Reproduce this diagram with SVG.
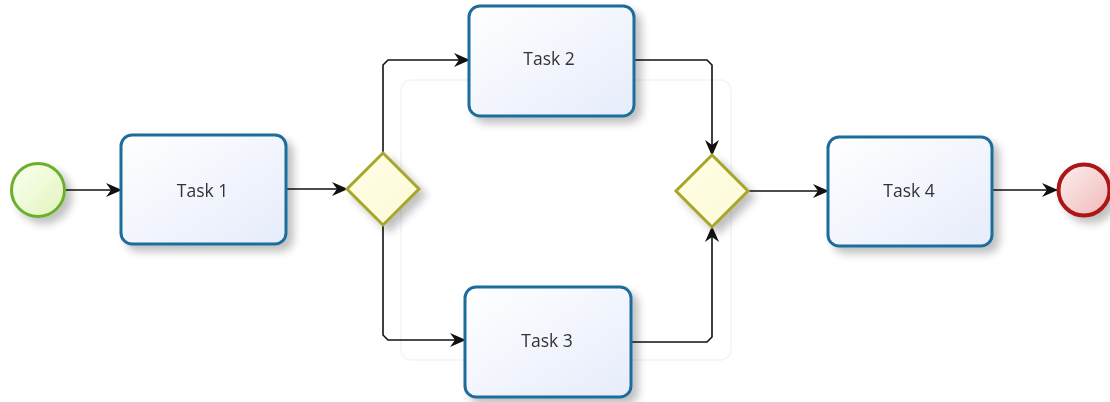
<svg xmlns="http://www.w3.org/2000/svg" width="1110" height="402" viewBox="0 0 1110 402">
<style>
.task rect.box{fill:url(#gTask);stroke:#1d6d9b;stroke-width:3}
.gw polygon{fill:url(#gGw);stroke:#a6a62a;stroke-width:3}
.lbl{font-family:"Open Sans","Noto Sans",sans-serif;font-size:17.5px;fill:#333;text-anchor:middle;dominant-baseline:central}
.flow{fill:none;stroke:#111;stroke-width:1.6;marker-end:url(#arr)}
.shadow{filter:url(#sh)}
</style>
<defs>
<linearGradient id="gTask" x1="0" y1="0" x2="1" y2="1"><stop offset="0" stop-color="#ffffff"/><stop offset="1" stop-color="#e6ecfb"/></linearGradient>
<linearGradient id="gGw" x1="0" y1="0" x2="1" y2="1"><stop offset="0" stop-color="#ffffe6"/><stop offset="1" stop-color="#fbf9d6"/></linearGradient>
<linearGradient id="gStart" x1="0" y1="0" x2="1" y2="1"><stop offset="0" stop-color="#fbfff0"/><stop offset="1" stop-color="#e2f4bd"/></linearGradient>
<linearGradient id="gEnd" x1="0" y1="0" x2="1" y2="1"><stop offset="0" stop-color="#fdf0f0"/><stop offset="1" stop-color="#f0b8b8"/></linearGradient>
<filter id="sh" x="-20%" y="-20%" width="150%" height="150%"><feGaussianBlur in="SourceAlpha" stdDeviation="4"/><feOffset dx="6" dy="6"/><feComponentTransfer><feFuncA type="linear" slope="0.25"/></feComponentTransfer><feMerge><feMergeNode/><feMergeNode in="SourceGraphic"/></feMerge></filter>
<marker id="arr" markerWidth="16" markerHeight="16" refX="15" refY="8" orient="auto" markerUnits="userSpaceOnUse"><path d="M0,1 L16,8 L0,15 L5,8 Z" fill="#111"/></marker>
</defs>
<rect x="401" y="80" width="330" height="280" rx="10" fill="none" stroke="#f4f4f4" stroke-width="1.5"/>
<g id="connectors">
<path class="flow" d="M66,190 H121"/>
<path class="flow" d="M286,189 H347"/>
<path class="flow" d="M383,153 V65 L388,60 H469"/>
<path class="flow" d="M383,225 V335 L388,340 H465"/>
<path class="flow" d="M633,60 H707 L712,65 V155"/>
<path class="flow" d="M631,342 H707 L712,337 V227"/>
<path class="flow" d="M748,191 H828"/>
<path class="flow" d="M992,190 H1057"/>
</g>
<g id="start" class="shadow"><circle cx="38" cy="190" r="26.5" fill="url(#gStart)" stroke="#6bb02c" stroke-width="3"/></g>
<g id="task1" class="task shadow"><rect class="box" x="121" y="135" width="165" height="109" rx="11"/><text class="lbl" x="202.5" y="189.5">Task 1</text></g>
<g id="gw1" class="gw shadow"><polygon points="383,153 419,189 383,225 347,189"/></g>
<g id="task2" class="task shadow"><rect class="box" x="469" y="6" width="165" height="110" rx="11"/><text class="lbl" x="549" y="58">Task 2</text></g>
<g id="task3" class="task shadow"><rect class="box" x="465" y="287" width="166" height="110" rx="11"/><text class="lbl" x="547" y="340">Task 3</text></g>
<g id="gw2" class="gw shadow"><polygon points="712,155 748,191 712,227 676,191"/></g>
<g id="task4" class="task shadow"><rect class="box" x="828" y="137" width="164" height="109" rx="11"/><text class="lbl" x="909" y="190">Task 4</text></g>
<g id="end" class="shadow"><circle cx="1084" cy="190" r="25.5" fill="url(#gEnd)" stroke="#ad1515" stroke-width="4"/></g>
</svg>
